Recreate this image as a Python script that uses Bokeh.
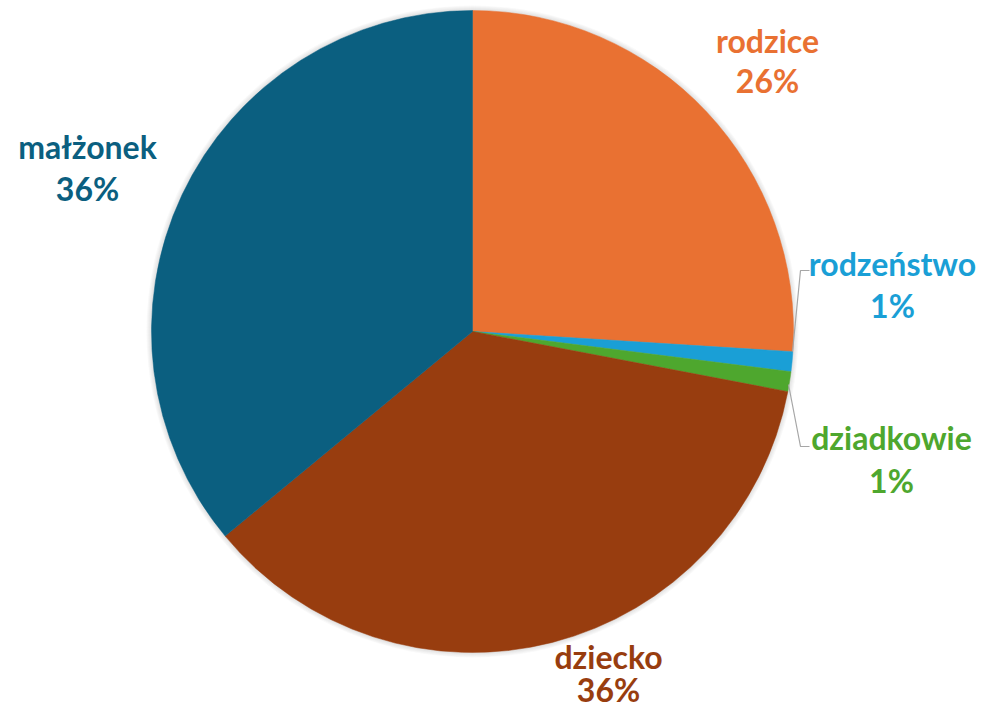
import math
from bokeh.plotting import figure
from bokeh.models import Range1d, ColumnDataSource
from bokeh.core.properties import value
from bokeh.embed import file_html
from bokeh.resources import INLINE

# ---- data ----
categories = ["rodzice", "rodzeństwo", "dziadkowie", "dziecko", "małżonek"]
shares = [26, 1, 1, 36, 36]
colors = ["#E97132", "#1A9FD6", "#4EA72E", "#983D0F", "#0B5F80"]

# ---- layout (pixel-like data space) ----
W, H = 979, 708
SHIFT = 4
def px(ix):
    return ix
def py(iy):
    return H - (iy - SHIFT)

cx, cy, R = px(472), py(335), 321

total = float(sum(shares))
starts, ends = [], []
cum = 0.0
for s in shares:
    a0 = math.pi / 2 - 2 * math.pi * (cum + s) / total
    a1 = math.pi / 2 - 2 * math.pi * cum / total
    starts.append(a0)
    ends.append(a1)
    cum += s

src = ColumnDataSource(dict(cat=categories, start=starts, end=ends, color=colors))

p = figure(width=W, height=H, x_range=Range1d(0, W), y_range=Range1d(0, H),
           output_backend="svg", toolbar_location=None, min_border=0)
p.axis.visible = False
p.grid.visible = False
p.outline_line_color = None
p.background_fill_color = "white"

# soft outer shadow
for k in range(1, 6):
    p.circle(x=[cx], y=[cy], radius=R + k, fill_color="#808080", fill_alpha=0.05,
             line_color=None)

p.wedge(x=cx, y=cy, radius=R, start_angle="start", end_angle="end",
        direction="anticlock", fill_color="color", line_color="color",
        line_width=0.5, source=src)

# leader lines
lead_color = "#A6A6A6"
p.line([px(792), px(800), px(809)], [py(355), py(274), py(274)], line_color=lead_color, line_width=1.2)
p.line([px(788), px(800), px(809)], [py(388), py(450), py(450)], line_color=lead_color, line_width=1.2)

# label positions (image pixel centres)
label_pos = [(767, 44, 84), (892, 267, 309), (891, 441, 484), (608, 660, 693), (87, 150, 192)]
font = value("Lato")
for name, s, c, (lx, ly1, ly2) in zip(categories, shares, colors, label_pos):
    p.text(x=[px(lx)], y=[py(ly1)], text=[name], text_color=c, text_font=font,
           text_font_size="32px", text_font_style="bold",
           text_align="center", text_baseline="middle")
    p.text(x=[px(lx)], y=[py(ly2)], text=[f"{s}%"], text_color=c, text_font=font,
           text_font_size="32px", text_font_style="bold",
           text_align="center", text_baseline="middle")

open("out.html", "w").write(file_html(p, INLINE))
